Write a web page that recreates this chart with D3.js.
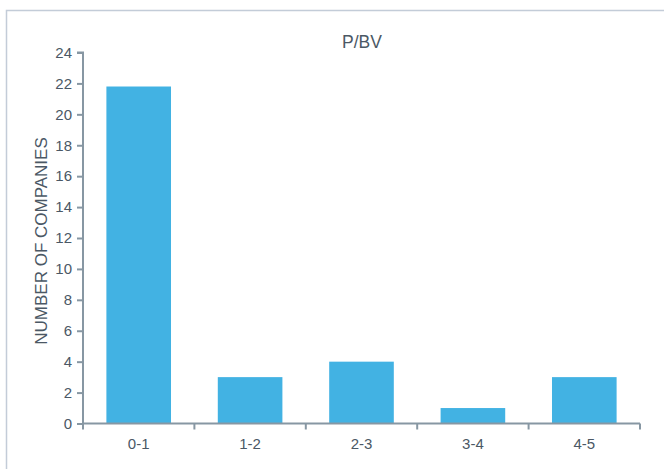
<!doctype html>
<html lang="en">
<head>
  <meta name="viewport" content="width=device-width, initial-scale=1.0">
  <style>
    body { margin: 0; background: #fff; }
    text { font-family: "Liberation Sans", Arial, sans-serif; }
  </style>
</head>
<body>
  <script src="https://d3js.org/d3.v7.min.js" charset="utf-8"></script>
  <div id="chart"></div>
  <script>
    // data
    var categories = ["0-1", "1-2", "2-3", "3-4", "4-5"];
    var counts = [21.8, 3, 4, 1, 3];
    var yTicks = [0, 2, 4, 6, 8, 10, 12, 14, 16, 18, 20, 22, 24];
    var title = "P/BV";
    var yLabel = "NUMBER OF COMPANIES";

    var width = 664, height = 469;
    var margin = {top: 52.5, right: 24, bottom: 45.5, left: 83};
    var w = width - margin.left - margin.right,
        h = height - margin.top - margin.bottom;

    var svg = d3.select("#chart").append("svg")
                .attr("width", width)
                .attr("height", height);

    // outer frame
    svg.append("rect")
       .attr("x", 6.5).attr("y", 10.5)
       .attr("width", width).attr("height", height)
       .attr("fill", "none")
       .attr("stroke", "#c3ccd8")
       .attr("stroke-width", 1.5);

    var g = svg.append("g")
               .attr("transform", "translate(" + margin.left + "," + margin.top + ")");

    var x = d3.scaleBand().domain(categories).range([0, w]).paddingInner(0.42).paddingOuter(0.21);
    var xb = d3.scaleBand().domain(categories).range([0, w]);
    var y = d3.scaleLinear().domain([0, 24]).range([h, 0]);

    var axisColor = "#8797a3", textColor = "#4b5865";

    // bars
    g.append("g").selectAll("rect").data(counts)
     .enter().append("rect")
     .attr("x", function(d, i) { return x(categories[i]); })
     .attr("y", function(d) { return y(d); })
     .attr("width", x.bandwidth())
     .attr("height", function(d) { return h - y(d); })
     .attr("fill", "#42b2e3");

    // y axis
    var ya = g.append("g")
              .call(d3.axisLeft(y).tickValues(yTicks).tickSize(6).tickPadding(5));
    // x axis, ticks at band edges
    var xa = g.append("g")
              .attr("transform", "translate(0," + h + ")")
              .call(d3.axisBottom(xb).tickSize(0).tickPadding(15));
    var edges = categories.map(function(c) { return xb(c); }).concat([w]);
    xa.selectAll("line.edge").data(edges).enter().append("line")
      .attr("class", "edge")
      .attr("x1", function(d) { return d; }).attr("x2", function(d) { return d; })
      .attr("y1", 0).attr("y2", 6);

    [ya, xa].forEach(function(a) {
      a.select(".domain").attr("stroke", axisColor).attr("stroke-width", 2);
      a.selectAll("line").attr("stroke", axisColor).attr("stroke-width", 2);
      a.selectAll("text").attr("fill", textColor).style("font-size", "15px")
       .style("font-family", "'Liberation Sans', Arial, sans-serif");
    });
    ya.select(".domain").attr("d", "M-6," + y(24) + "H0V" + h);
    xa.select(".domain").attr("d", "M0,0H" + w);

    // title
    svg.append("text")
       .attr("x", 362).attr("y", 48)
       .attr("text-anchor", "middle")
       .attr("fill", textColor)
       .style("font-size", "17.5px")
       .text(title);

    // y label
    svg.append("text")
       .attr("transform", "translate(47,241) rotate(-90)")
       .attr("text-anchor", "middle")
       .attr("fill", textColor)
       .style("font-size", "17px")
       .text(yLabel);
  </script>
</body>
</html>
